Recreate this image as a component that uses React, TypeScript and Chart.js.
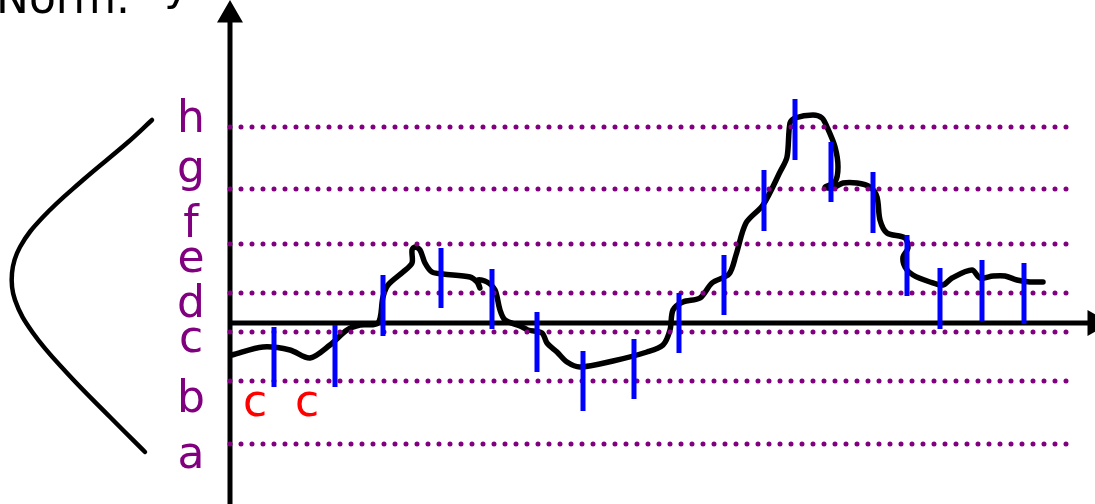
import React, { useEffect, useRef } from 'react';
import { Chart, registerables } from 'chart.js';

Chart.register(...registerables);

// ---- data (x: time units from the vertical axis, y: value units from the horizontal axis) ----
const curveX = [0.2, 3.3, 6.0, 8.0, 10.0, 11.7, 13.0, 14.8, 15.3, 15.8, 17.3, 18.2, 18.2, 18.5, 19.0, 19.5, 20.2, 21.3, 24.0, 24.7, 25.0, 24.8, 25.7, 26.5, 27.0, 27.5, 29.0, 29.8, 31.2, 31.7, 32.7, 33.7, 35.0, 38.3, 41.7, 43.3, 44.0, 44.3, 45.3, 47.0, 48.2, 49.9, 50.6, 51.6, 53.3, 55.0, 55.7, 56.0, 56.5, 58.3, 59.2, 59.7, 60.5, 60.8, 60.5, 59.5, 60.3, 61.3, 62.7, 64.0, 64.7, 65.0, 65.7, 67.5, 67.8, 67.3, 67.5, 68.3, 70.0, 71.3, 72.2, 74.2, 75.0, 76.3, 77.5, 78.7, 80.0, 81.3];
const curveY = [-3.2, -2.4, -2.7, -3.5, -2.2, -0.7, -0.2, 0.0, 2.6, 3.8, 5.1, 6.0, 7.3, 7.6, 7.3, 6.0, 5.1, 4.9, 4.6, 4.1, 3.5, 4.3, 4.1, 3.3, 1.3, 0.3, -0.3, -0.7, -1.0, -2.0, -2.9, -3.9, -4.4, -3.8, -2.9, -2.2, -0.7, 1.3, 2.1, 2.5, 4.0, 4.9, 6.8, 10.0, 11.8, 15.1, 16.6, 20.0, 20.5, 20.8, 20.5, 19.6, 17.6, 15.6, 14.1, 13.6, 13.5, 14.0, 14.0, 13.6, 12.6, 10.3, 9.0, 8.5, 7.5, 6.6, 5.6, 4.8, 4.1, 3.8, 4.5, 5.3, 4.5, 4.7, 4.7, 4.3, 4.1, 4.1];

const barX = [4.4, 10.5, 15.3, 21.1, 26.2, 30.7, 35.3, 40.4, 44.9, 49.4, 53.4, 56.5, 60.1, 64.3, 67.7, 71.0, 75.2, 79.4];
const barLow = [-6.4, -6.4, -1.3, 1.5, -0.6, -4.9, -8.8, -7.6, -3.0, 0.8, 9.2, 16.3, 12.1, 9.0, 2.7, -0.6, 0.2, -0.1];
const barHigh = [-0.4, -0.2, 4.8, 7.5, 5.4, 1.1, -2.8, -1.6, 3.0, 6.8, 15.3, 22.4, 18.1, 15.1, 8.8, 5.5, 6.3, 6.0];

const levelValues = [-12.1, -5.8, -0.9, 3.0, 7.9, 13.4, 19.6];
const levelStart = 0;
const levelEnd = 84.0;

const letterLabels = ['a', 'b', 'c', 'd', 'e', 'f', 'g', 'h'];
const letterY = [-14.5, -8.9, -2.9, 0.6, 5.1, 8.6, 14.1, 19.1];
const letterX = -3.9;

const bellX = [-7.8, -10.3, -14.7, -18.7, -21.0, -21.8, -21.5, -19.7, -16.3, -12.0, -8.5];
const bellY = [20.3, 18.0, 14.3, 10.6, 7.6, 5.0, 2.3, -1.0, -5.0, -9.4, -12.9];

const markerLabels = ['c', 'c'];
const markerX = [2.5, 7.7];
const markerY = -9.3;

const titleText = 'Norm.';
const axisLabel = 'y';

const X_MIN = -23;
const X_MAX = 86.5;
const Y_MIN = -18.1;
const Y_MAX = 32.3;

const FONT = '"DejaVu Sans", sans-serif';

const textPlugin = {
  id: 'textLabels',
  afterDatasetsDraw(chart: any) {
    const { ctx, scales } = chart;
    const xs = scales.x;
    const ys = scales.y;
    ctx.save();
    ctx.textBaseline = 'alphabetic';
    ctx.textAlign = 'center';
    ctx.font = `44px ${FONT}`;
    ctx.fillStyle = '#800080';
    letterLabels.forEach((l, i) => {
      ctx.fillText(l, xs.getPixelForValue(letterX), ys.getPixelForValue(letterY[i]));
    });
    ctx.fillStyle = '#ff0000';
    markerLabels.forEach((l, i) => {
      ctx.fillText(l, xs.getPixelForValue(markerX[i]), ys.getPixelForValue(markerY));
    });
    ctx.fillStyle = '#000000';
    ctx.textAlign = 'left';
    ctx.font = `44px ${FONT}`;
    ctx.fillText(titleText, xs.getPixelForValue(X_MIN) - 4, ys.getPixelForValue(31.0));
    ctx.textAlign = 'center';
    ctx.fillText(axisLabel, xs.getPixelForValue(-5.3), ys.getPixelForValue(32.3));
    ctx.restore();
  },
};

export default function App() {
  const ref = useRef<HTMLCanvasElement | null>(null);

  useEffect(() => {
    if (!ref.current) return;

    const barData: any[] = [];
    barX.forEach((x, i) => {
      barData.push({ x, y: barLow[i] });
      barData.push({ x, y: barHigh[i] });
      barData.push({ x, y: null });
    });

    const levelDatasets = levelValues.map((v) => ({
      type: 'line',
      data: [
        { x: levelStart, y: v },
        { x: levelEnd, y: v },
      ],
      borderColor: '#800080',
      borderWidth: 5,
      borderDash: [0, 11],
      borderCapStyle: 'round',
      pointRadius: 0,
      showLine: true,
      order: 1,
    }));

    const chart = new Chart(ref.current, {
      type: 'scatter',
      data: {
        datasets: [
          {
            data: barData,
            borderColor: '#0000ff',
            borderWidth: 5,
            borderCapStyle: 'butt',
            pointRadius: 0,
            showLine: true,
            spanGaps: false,
            order: 0,
          },
          ...(levelDatasets as any[]),
          {
            data: bellX.map((x, i) => ({ x, y: bellY[i] })),
            borderColor: '#000000',
            borderWidth: 4.5,
            borderCapStyle: 'round',
            tension: 0.4,
            pointRadius: 0,
            showLine: true,
            order: 2,
          },
          {
            data: curveX.map((x, i) => ({ x, y: curveY[i] })),
            borderColor: '#000000',
            borderWidth: 5.5,
            borderCapStyle: 'round',
            borderJoinStyle: 'round',
            tension: 0.3,
            pointRadius: 0,
            showLine: true,
            order: 3,
          },
          {
            data: [
              { x: -0.2, y: 0 },
              { x: 86.5, y: 0 },
            ],
            borderColor: '#000000',
            borderWidth: 5,
            pointRadius: [0, 10],
            pointStyle: 'triangle',
            rotation: 90,
            pointBackgroundColor: '#000000',
            pointBorderColor: '#000000',
            showLine: true,
            order: 4,
          },
          {
            data: [
              { x: 0, y: Y_MIN - 1 },
              { x: 0, y: 30.8 },
            ],
            borderColor: '#000000',
            borderWidth: 5,
            pointRadius: [0, 10],
            pointStyle: 'triangle',
            rotation: 0,
            pointBackgroundColor: '#000000',
            pointBorderColor: '#000000',
            showLine: true,
            order: 4,
          },
        ] as any,
      },
      options: {
        animation: false,
        responsive: false,
        maintainAspectRatio: false,
        layout: { padding: 0, autoPadding: false },
        events: [],
        clip: false,
        plugins: {
          legend: { display: false },
          tooltip: { enabled: false },
        },
        scales: {
          x: { type: 'linear', min: X_MIN, max: X_MAX, display: false },
          y: { type: 'linear', min: Y_MIN, max: Y_MAX, display: false },
        },
      },
      plugins: [textPlugin],
    } as any);

    return () => chart.destroy();
  }, []);

  return (
    <div style={{ position: 'fixed', left: 0, top: 0, width: 1095, height: 504, background: '#ffffff' }}>
      <canvas ref={ref} width={1095} height={504} style={{ width: 1095, height: 504, display: 'block' }} />
    </div>
  );
}
